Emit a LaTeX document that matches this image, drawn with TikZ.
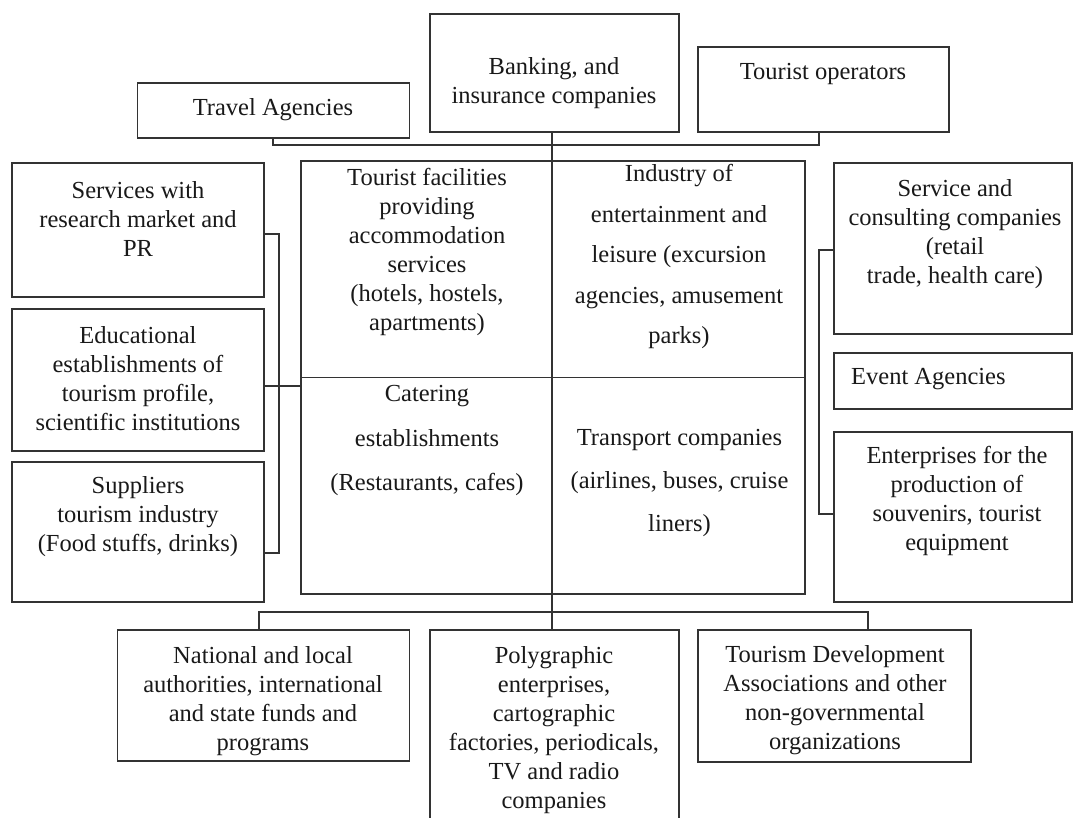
\documentclass[tikz,border=0pt]{standalone}
\usepackage{fontspec}
\setmainfont{Liberation Serif}

\begin{document}
\begin{tikzpicture}[x = 1pt, y = -1pt,
	box/.style = {draw = black!80, line width = 1.3pt, inner sep = 0pt},
	link/.style = {draw = black!80, line width = 1.3pt},
	txt/.style = {align = center, inner sep = 0pt, text = black!90, font = \fontsize{24.5}{29}\selectfont},
	spread/.style = {font = \fontsize{24.5}{#1}\selectfont}]
	
		\fill[white] (0, 0) rectangle (1074, 817);
		\useasboundingbox (0, 0) rectangle (1074, 817);
		\clip (0, 0) rectangle (1074, 817);
		
		\node[box, minimum width = 249pt, minimum height = 118pt] (bank) at (554.5, 73) {};
		\node[box, minimum width = 272pt, minimum height = 55pt] (travel) at (273.8, 110.5) {};
		\node[box, minimum width = 251pt, minimum height = 85pt] (tourop) at (823.5, 89.5) {};
		\node[box, minimum width = 504pt, minimum height = 433pt] (hub) at (553, 377.5) {};
		\node[box, minimum width = 252pt, minimum height = 134pt] (serv) at (138, 230) {};
		\node[box, minimum width = 252pt, minimum height = 142pt] (edu) at (138, 380) {};
		\node[box, minimum width = 252pt, minimum height = 140pt] (supp) at (138, 532) {};
		\node[box, minimum width = 238pt, minimum height = 171pt] (cons) at (953, 248.5) {};
		\node[box, minimum width = 238pt, minimum height = 56pt] (event) at (953, 381) {};
		\node[box, minimum width = 238pt, minimum height = 170pt] (ent) at (953, 517) {};
		\node[box, minimum width = 292pt, minimum height = 131pt] (natl) at (263.8, 695.5) {};
		\node[box, minimum width = 249pt, minimum height = 210pt] (poly) at (554.5, 735) {};
		\node[box, minimum width = 273pt, minimum height = 132pt] (tdev) at (834.5, 696) {};
		
		\coordinate (spine) at (552, 0);
		\coordinate (top bus l) at (273, 145);
		\coordinate (top bus r) at (819, 145);
		\coordinate (left bus t) at (279, 234);
		\coordinate (left bus m) at (279, 386);
		\coordinate (left bus b) at (279, 553);
		\coordinate (right bus t) at (819, 250);
		\coordinate (right bus b) at (819, 514);
		\coordinate (low bus l) at (259, 612);
		\coordinate (low bus r) at (868, 612);
		
		\draw[link] (travel.south -| top bus l) -- (top bus l) -- (top bus r) -- (tourop.south -| top bus r);
		\draw[link] (bank.south -| spine) -- (poly.north -| spine);
		\draw[link] (hub.west) -- (hub.east);
		\draw[link] (serv.east |- left bus t) -- (left bus t) -- (left bus b) -- (supp.east |- left bus b);
		\draw[link] (edu.east |- left bus m) -- (hub.west |- left bus m);
		\draw[link] (cons.west |- right bus t) -- (right bus t) -- (right bus b) -- (ent.west |- right bus b);
		\draw[link] (natl.north -| low bus l) -- (low bus l) -- (low bus r) -- (tdev.north -| low bus r);
		
		\node[txt] (bank text) at (554, 83) {Banking, and\\insurance companies};
		\node[txt] (travel text) at (273, 110) {Travel Agencies};
		\node[txt] (tourop text) at (823, 74) {Tourist operators};
		
		\node[txt] (serv text) at (138, 219) {Services with\\research market and\\PR};
		\node[txt] (edu text) at (138, 379) {Educational\\establishments of\\tourism profile,\\scientific institutions};
		\node[txt] (supp text) at (138, 517) {Suppliers\\tourism industry\\(Food stuffs, drinks)};
		
		\node[txt] (stay text) at (427, 252) {Tourist facilities\\providing\\accommodation\\services\\(hotels, hostels,\\apartments)};
		\node[txt, spread = 40.5] (fun text) at (679, 256.5) {Industry of\\entertainment and\\leisure (excursion\\agencies, amusement\\parks)};
		\node[txt, spread = 44.5] (food text) at (427, 440.5) {Catering\\establishments\\(Restaurants, cafes)};
		\node[txt, spread = 43] (move text) at (679.5, 483) {Transport companies\\(airlines, buses, cruise\\liners)};
		
		\node[txt] (cons text) at (955, 234) {Service and\\consulting companies\\(retail\\trade, health care)};
		\node[txt, anchor = west] (event text) at (851, 379) {Event Agencies};
		\node[txt] (ent text) at (957, 501) {Enterprises for the\\production of\\souvenirs, tourist\\equipment};
		
		\node[txt] (natl text) at (263, 701.5) {National and local\\authorities, international\\and state funds and\\programs};
		\node[txt] (poly text) at (554, 730.5) {Polygraphic\\enterprises,\\cartographic\\factories, periodicals,\\TV and radio\\companies};
		\node[txt] (tdev text) at (835, 700.5) {Tourism Development\\Associations and other\\non-governmental\\organizations};
	
	\end{tikzpicture}
\end{document}
